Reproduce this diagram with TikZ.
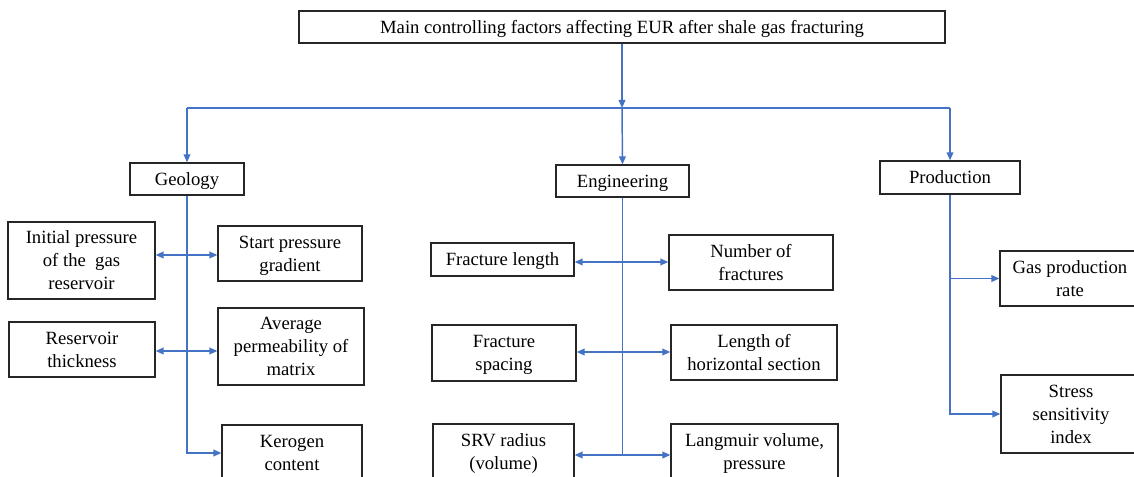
\documentclass[tikz,border=0pt]{standalone}
\usepackage{fontspec}
\setmainfont{Liberation Serif}
\usepackage{xcolor}
\usepackage{tikz}
\usetikzlibrary{arrows.meta,positioning,calc}
\definecolor{lineblue}{RGB}{68,114,196}

\begin{document}
\begin{tikzpicture}[
  x=0.75pt,y=-0.75pt,
  box/.style={draw=black!85,line width=0.9pt,fill=white,align=center,inner sep=0pt,
    text depth=-4pt,font=\fontsize{14}{17.25}\selectfont},
  arr/.style={-{Triangle[length=6pt,width=5pt]},draw=lineblue,line width=1.1pt},
  biarr/.style={{Triangle[length=6pt,width=5pt]}-{Triangle[length=6pt,width=5pt]},draw=lineblue,line width=1.1pt},
  trunk/.style={draw=lineblue,line width=1.1pt}
]
\useasboundingbox (0,0) rectangle (1134,477);
\node[box,minimum width=646*0.75pt,minimum height=32*0.75pt] (top) at (622,27) {Main controlling factors affecting EUR after shale gas fracturing};
\node[box,minimum width=114*0.75pt,minimum height=32*0.75pt] (geo) at (187,179) {Geology};
\node[box,minimum width=133*0.75pt,minimum height=32*0.75pt] (eng) at (622.5,181) {Engineering};
\node[box,minimum width=140*0.75pt,minimum height=33*0.75pt] (prod) at (950,177.5) {Production};
% geology
\node[box,minimum width=147*0.75pt,minimum height=77*0.75pt] (initp) at (81.5,260.5) {Initial pressure\\of the~ gas\\reservoir};
\node[box,minimum width=144*0.75pt,minimum height=55*0.75pt] (startp) at (290,253.5) {Start pressure\\gradient};
\node[box,minimum width=146*0.75pt,minimum height=55*0.75pt] (resth) at (82,349.5) {Reservoir\\thickness};
\node[box,minimum width=146*0.75pt,minimum height=77*0.75pt] (avgperm) at (291,346.5) {Average\\permeability of\\matrix};
\node[box,minimum width=140*0.75pt,minimum height=56*0.75pt] (kerogen) at (292,453) {Kerogen\\content};
% engineering
\node[box,minimum width=143*0.75pt,minimum height=33*0.75pt] (fraclen) at (502.5,259.5) {Fracture length};
\node[box,minimum width=164*0.75pt,minimum height=55*0.75pt] (numfrac) at (751,262.5) {Number of\\fractures};
\node[box,minimum width=144*0.75pt,minimum height=56*0.75pt] (fracsp) at (504,353) {Fracture\\spacing};
\node[box,minimum width=166*0.75pt,minimum height=55*0.75pt] (lenhor) at (754,352.5) {Length of\\horizontal section};
\node[box,minimum width=141*0.75pt,minimum height=56*0.75pt] (srv) at (503.5,452) {SRV radius\\(volume)};
\node[box,minimum width=167*0.75pt,minimum height=56*0.75pt] (langm) at (754.5,452) {Langmuir volume,\\pressure};
% production
\node[box,minimum width=140*0.75pt,minimum height=55*0.75pt] (gasrate) at (1070,278.5) {Gas production\\rate};
\node[box,minimum width=140*0.75pt,minimum height=78*0.75pt] (stress) at (1071,414) {Stress\\sensitivity\\index};

\coordinate (hub) at (622,108);
\coordinate (g1) at (186,255);
\coordinate (g2) at (186,351);
\coordinate (e1) at (624,262);
\coordinate (e2) at (624,352);
\coordinate (e3) at (624,455);

\draw[arr] (top.south) -- (hub);
\draw[trunk] (geo.north |- hub) -- (prod.north |- hub);
\draw[arr] (geo.north |- hub) -- (geo.north);
\draw[arr] (hub) -- (eng.north);
\draw[arr] (prod.north |- hub) -- (prod.north);

\draw[arr] (geo.south) |- (kerogen.west);
\draw[biarr] (g1 -| initp.east) -- (g1 -| startp.west);
\draw[biarr] (g2 -| resth.east) -- (g2 -| avgperm.west);

\draw[trunk] (eng.south) -- (eng.south |- e3);
\draw[biarr] (e1 -| fraclen.east) -- (e1 -| numfrac.west);
\draw[biarr] (e2 -| fracsp.east) -- (e2 -| lenhor.west);
\draw[biarr] (e3 -| srv.east) -- (e3 -| langm.west);

\draw[arr] (prod.south) |- (stress.west);
\draw[arr] (prod.south |- gasrate.west) -- (gasrate.west);
\end{tikzpicture}
\end{document}
